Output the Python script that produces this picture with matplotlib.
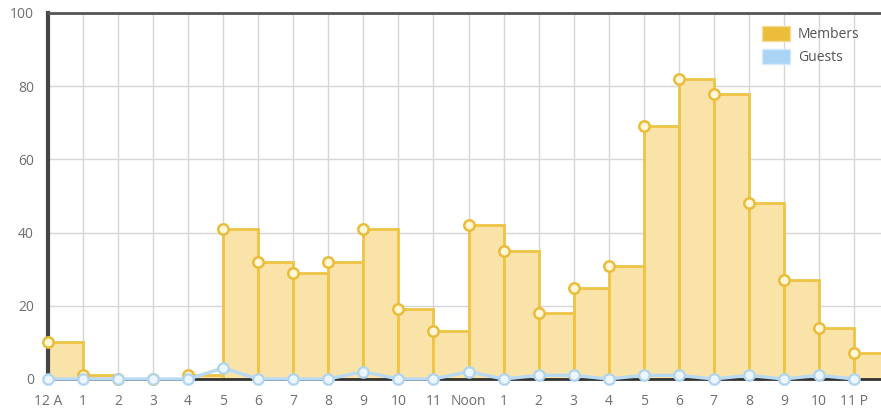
import matplotlib
matplotlib.use('Agg')
import matplotlib.pyplot as plt
from matplotlib.patches import Patch

# hourly visits
hours = list(range(24))
hour_labels = ['12 A', '1', '2', '3', '4', '5', '6', '7', '8', '9', '10', '11',
               'Noon', '1', '2', '3', '4', '5', '6', '7', '8', '9', '10', '11 P']
members = [10, 1, 0, 0, 1, 41, 32, 29, 32, 41, 19, 13,
           42, 35, 18, 25, 31, 69, 82, 78, 48, 27, 14, 7]
guests = [0, 0, 0, 0, 0, 3, 0, 0, 0, 2, 0, 0,
          2, 0, 1, 1, 0, 1, 1, 0, 1, 0, 1, 0]

plt.rcParams['font.family'] = ['Open Sans', 'DejaVu Sans']

fig = plt.figure(figsize=(8.81, 4.16), dpi=100)
ax = fig.add_axes([48 / 881, 37 / 416, 833 / 881, 366 / 416])

# members as stepped bars
ax.bar(hours, members, width=1, align='edge', color='#F9E3A8',
       edgecolor='#EEC444', linewidth=2.0, zorder=2)
ax.plot(hours, members, 'o', ms=7.5, mfc='#FFF7D6', mec='#E9BC3A', mew=1.8,
        zorder=4, clip_on=False)

# guests as a line
ax.plot(hours, guests, '-', color='#B8DAF3', lw=2.4, zorder=5, clip_on=False)
ax.plot(hours, guests, 'o', ms=7.5, mfc='#EEF6FD', mec='#AFD4F1', mew=1.6,
        zorder=6, clip_on=False)

ax.set_xlim(0, 832 / 35)
ax.set_ylim(0, 100)

ax.set_xticks(hours)
ax.set_xticklabels(hour_labels)
ax.set_yticks([0, 20, 40, 60, 80, 100])
ax.tick_params(length=0, labelsize=10, labelcolor='#6E6E6E')
ax.tick_params(axis='x', pad=11)
ax.tick_params(axis='y', pad=10)

ax.grid(True, color='#D6D6D6', linewidth=1, zorder=0)
ax.set_axisbelow(True)

ax.spines['left'].set_linewidth(3)
ax.spines['left'].set_color('#444444')
ax.spines['top'].set_linewidth(2)
ax.spines['top'].set_color('#555555')
ax.spines['bottom'].set_linewidth(2)
ax.spines['bottom'].set_color('#333333')
ax.spines['bottom'].set_zorder(3)
ax.spines['right'].set_visible(False)

handles = [Patch(facecolor='#EBBD3A', edgecolor='#F3DC98', label='Members'),
           Patch(facecolor='#AAD4F5', edgecolor='#D6EAF9', label='Guests')]
leg = ax.legend(handles=handles, loc='upper left', bbox_to_anchor=(762 / 881, 1 - 26 / 416),
                bbox_transform=fig.transFigure, frameon=False, fontsize=10,
                handlelength=2.0, handleheight=1.3, handletextpad=0.6,
                labelspacing=0.5, borderaxespad=0, borderpad=0)
for t in leg.get_texts():
    t.set_color('#555555')

fig.savefig('out.png', dpi=100)
